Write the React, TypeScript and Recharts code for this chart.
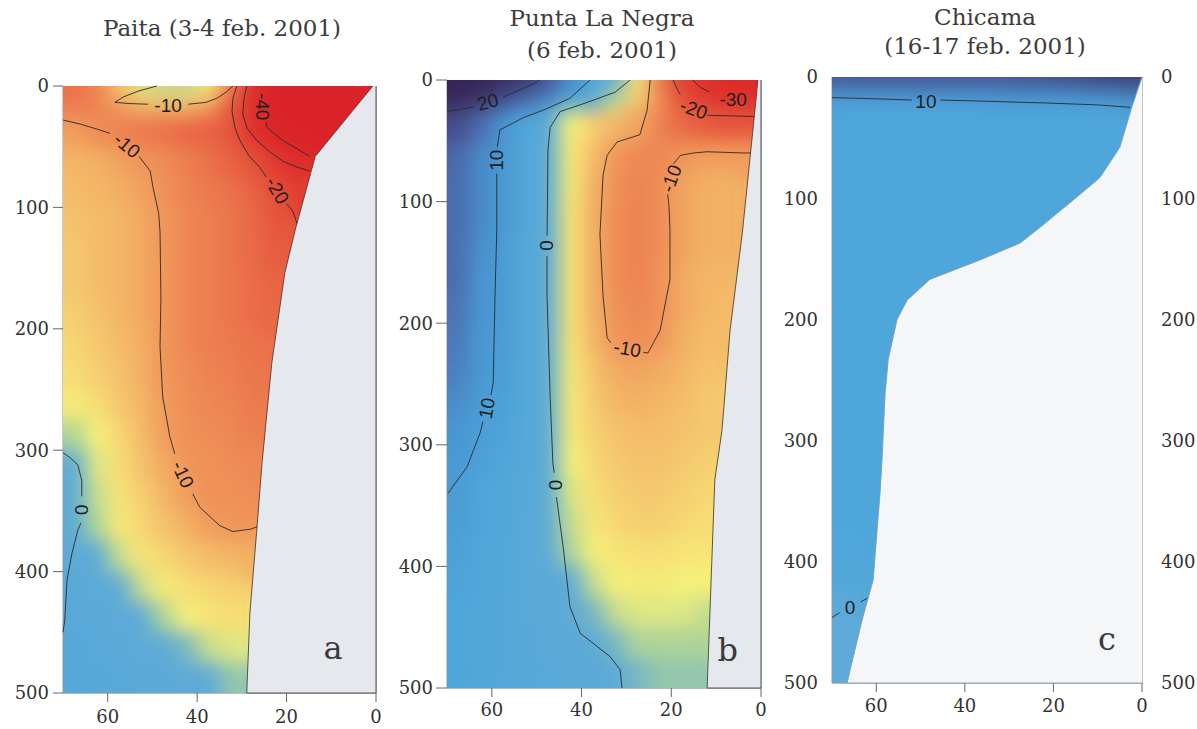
import React from 'react';
import { ScatterChart, Scatter, XAxis, YAxis } from 'recharts';

type Pt = [number, number];
type Lbl = [string, number, number, number];
const _ = null;

// grid of the velocity field: cell centres along the section (km) and depth cell edges (m)
const X_CENTERS = [67.5, 62.5, 57.5, 52.5, 47.5, 42.5, 37.5, 32.5, 27.5, 22.5, 17.5, 12.5, 7.5, 2.5];
const DEPTH_EDGES = [0, 10, 25, 50, 75, 100, 125, 150, 175, 200, 225, 250, 275, 300, 325, 350, 375, 400, 425, 450, 475, 500];
const Y_TICKS = [0, 100, 200, 300, 400, 500];
const X_TICKS = [60, 40, 20, 0];

// Panel a: Paita (3-4 feb. 2001)
const A_ROWS: (number | null)[][] = [
  [-14, -12, -6, -2.5, -2, -2, -3, -12, -36, -45, -45, -45, -45, -45],
  [-13, -12, -10, -8, -7.5, -7.5, -9.5, -19, -33, -45, -45, -45, -45, _],
  [-9.5, -11, -12, -13, -14, -15, -16, -18, -31, -42, -45, -45, _, _],
  [-7.5, -8, -9, -10, -11, -12.5, -14, -16, -19, -26, -34, _, _, _],
  [-7, -7.5, -8, -9, -10.5, -12, -13, -14, -16, -20, -24, _, _, _],
  [-6.5, -7, -7.5, -8.5, -10, -11.5, -12.5, -13.5, -15, -18, _, _, _, _],
  [-6, -7, -7.5, -8.5, -10, -11.5, -12.5, -13.5, -15, -17, _, _, _, _],
  [-6, -7, -7.5, -8.5, -10, -11.5, -12.5, -13.5, -14.5, -16, _, _, _, _],
  [-5.5, -6.5, -7.5, -8.5, -10, -11.5, -12.5, -13.5, -14.5, -15.5, _, _, _, _],
  [-5, -6, -7, -8, -10, -11.5, -12.5, -13, -14, _, _, _, _, _],
  [-4.5, -5.5, -6.5, -8, -10, -11, -12, -12.5, -13.5, _, _, _, _, _],
  [-3.5, -4.5, -6, -7.5, -9.5, -11, -11.5, -12, -13, _, _, _, _, _],
  [-1.5, -3, -5, -7, -9.5, -10.5, -11, -11.5, -12.5, _, _, _, _, _],
  [0, -2.5, -4.5, -6.5, -8.5, -10, -10.5, -11, -11.5, _, _, _, _, _],
  [0.5, -2, -4, -5.5, -7.5, -9.5, -10.5, -10.5, -11, _, _, _, _, _],
  [0.5, -1.5, -3.5, -5, -6.5, -8, -9.5, -10, -10, _, _, _, _, _],
  [1, 0, -2, -4, -5, -6, -7, -7.5, -8, _, _, _, _, _],
  [2, 1, 0, -2, -3.5, -4.5, -5, -5.5, _, _, _, _, _, _],
  [3, 2, 1, 0, -1.5, -3, -4, -4.5, _, _, _, _, _, _],
  [4, 3, 2, 1, 0.5, -0.5, -2, -2.5, _, _, _, _, _, _],
  [5, 4, 3, 2, 1.5, 1, 0, -1, _, _, _, _, _, _],
];
const A_SEAFLOOR: Pt[] = [[0.7, 0], [13.6, 58], [18.1, 119], [20.4, 154], [23.3, 228], [25.5, 311], [26.6, 363], [28.2, 434], [28.9, 500], [0, 500], [0, 0]];
const A_CONTOURS: Pt[][] = [
  [[49, 0], [53, 4], [56.5, 9], [58.4, 13.5], [55, 14.5], [51, 15]],
  [[42, 15], [38, 13.5], [35.5, 10], [33.5, 5], [32, 0]],
  [[70, 28], [66, 31.5], [62, 36], [59.5, 39]],
  [[53, 58], [50.5, 70], [49.9, 83], [48.6, 105], [48.3, 120], [48.1, 174], [48.3, 215], [47.7, 256], [46.1, 289], [45, 303]],
  [[41, 336], [39.4, 347], [35, 362], [32, 367], [28, 365], [26.6, 363]],
  [[24.6, 30], [24.4, 34], [22.5, 40], [20.8, 45], [18, 51], [14.8, 58]],
  [[28.9, 0], [29.5, 10], [29.8, 23], [28.8, 35], [26.6, 45], [23.5, 55], [20.8, 62], [17.5, 67], [14.8, 70]],
  [[31.1, 0], [32, 10], [32.2, 21], [31.5, 35], [30.4, 45], [28.5, 57], [26, 67], [24.5, 75]],
  [[20, 97], [18.6, 103], [17.7, 113]],
  [[70, 302], [68.5, 306], [66.7, 312], [65.8, 325], [65.8, 338]],
  [[66, 360], [66.7, 366], [68, 385], [69.1, 407], [69.6, 440], [70, 450]],
];
const A_LABELS: Lbl[] = [
  ['-10', 46.5, 16, 0], ['-10', 55.7, 49, 40], ['-40', 25.3, 17, 90], ['-20', 22.1, 86, 60], ['-10', 43.2, 320, 65], ['0', 65.8, 349, 90],
];

// Panel b: Punta La Negra (6 feb. 2001)
const B_ROWS: (number | null)[][] = [
  [26, 25, 23, 21, 17, 12, 7, 1.5, -4, -13, -24, -33, -37, -37],
  [23, 20, 17, 14, 11.5, 7, 1, -2, -6, -11, -19, -24, -29, -31],
  [17.5, 14.5, 11, 7, 1, -3, -5.5, -7.5, -9, -12, -15, -17, -18, -18],
  [15, 12, 10.5, 6, 0.5, -3.5, -7, -10, -11.5, -11.5, -10, -9.5, -9.5, -9.5],
  [14.5, 12, 10.5, 6, 0.5, -3.5, -8, -10.5, -12, -11, -9, -8, -8, _],
  [14.5, 12, 10.5, 6, 0.5, -4, -8, -11, -12, -11, -9, -8, -8, _],
  [14.5, 11.5, 10, 5.5, 0.5, -4, -8, -11, -12, -11, -9, -8, -8, _],
  [14.5, 11, 10, 5, 0.5, -4, -8, -11, -12, -10.5, -8.5, -7.5, -7.5, _],
  [14, 11, 10, 5, 0.5, -4, -8, -10.5, -11.5, -10.5, -8.5, -7.5, -7, _],
  [13.5, 10.5, 10, 5, 0.5, -4, -7.5, -10, -11, -10, -8, -7, -7, _],
  [13, 10.5, 9.5, 5, 0.5, -3.5, -6.5, -8.5, -9, -8.5, -7.5, -6.5, _, _],
  [12, 10, 9, 5, 0.5, -3.5, -6, -7.5, -8, -7.5, -7, -6, _, _],
  [11, 9.5, 8.5, 4.5, 0.5, -3.5, -5.5, -6.5, -7, -7, -6.5, -6, _, _],
  [10.5, 9, 7.5, 4, 0.5, -3, -5, -6, -6.5, -6.5, -6, -5.5, _, _],
  [10, 8, 6.5, 3.5, 0.5, -2.5, -4.5, -5.5, -6, -6, -5.5, -5, _, _],
  [9.5, 7.5, 6, 3, 0.5, -2, -4, -5, -5.5, -5.5, -5, -4.5, _, _],
  [9, 7, 5.5, 3, 1, -1.5, -3, -4, -4.5, -4.5, -4, -4, _, _],
  [8.5, 7, 5.5, 3, 1.5, 0, -2, -3, -3.5, -3.5, -3, -3, _, _],
  [8, 6.5, 5, 3, 2, 0.5, -0.5, -2, -2.5, -2.5, -2.5, -2, _, _],
  [8, 6.5, 5, 3.5, 2.5, 1.5, 0.5, -0.5, -1.5, -1.5, -1.5, -1.5, _, _],
  [8, 6.5, 5, 4, 3, 2.5, 1.5, 0.5, -0.5, -1, -1, -1, _, _],
];
const B_SEAFLOOR: Pt[] = [[0.7, 0], [1.3, 23], [4.2, 127], [6.9, 206], [8.7, 288], [10.3, 329], [12.0, 500], [0, 500], [0, 0]];
const B_CONTOURS: Pt[][] = [
  [[70, 26], [67, 24], [64, 22]],
  [[57.5, 14], [54, 8.5], [50, 2], [49.5, 0]],
  [[38.1, 0], [42.6, 15], [48, 24], [53, 31], [58.2, 41], [58.8, 55]],
  [[58.9, 77], [58.9, 123], [59.3, 178], [59.7, 249], [60.2, 259]],
  [[62, 281], [62.6, 290], [65.5, 318], [69.8, 340]],
  [[29.2, 0], [32.5, 10], [39.2, 19], [44.8, 26], [47, 39], [47.5, 58], [47.6, 100], [47.7, 128]],
  [[47.7, 145], [47.7, 178], [47, 261], [46.4, 315], [46.1, 323]],
  [[45.6, 343], [44.1, 384], [42.6, 433], [40.3, 455], [33.7, 474], [31.4, 485], [31, 500]],
  [[24.7, 0], [25.4, 25], [27, 45], [32.1, 51], [34.3, 62], [35.2, 78], [35.9, 127], [35.2, 178], [34.3, 212], [33.5, 216]],
  [[26.2, 224], [25.2, 224.5], [22.5, 206], [20.3, 164], [20.3, 123], [20.5, 105], [20.8, 94]],
  [[19.5, 69], [18, 62], [15, 60], [12, 59], [4, 60], [2.3, 60]],
  [[19.6, 0], [18.6, 8], [18, 12]],
  [[12, 29], [7, 29.5], [1.6, 30]],
  [[15.2, 0], [13.5, 6], [11.5, 10]],
];
const B_LABELS: Lbl[] = [
  ['20', 60.9, 18, -15], ['10', 58.9, 66, -90], ['0', 47.9, 136, -90], ['10', 61.1, 270, -80], ['0', 45.9, 333, -90],
  ['-10', 29.8, 221, 10], ['-10', 20, 81, -70], ['-20', 15, 24, 20], ['-30', 6.2, 16, 0],
];

// Panel c: Chicama (16-17 feb. 2001)
const C_ROWS: (number | null)[][] = [
  [17, 17, 17, 17, 17, 17, 17, 17, 17.5, 18, 18.5, 19, 20, 21],
  [9.5, 9.5, 9.5, 9.5, 9.5, 9.5, 9.5, 10, 10, 10, 10, 10.5, 10.5, 10.5],
  [8, 8, 8, 8, 8, 8, 8, 8, 8, 8, 8, 8, 8, _],
  [8, 8, 8, 8, 8, 8, 8, 8, 8, 8, 8, 8, 8, _],
  [8, 8, 8, 8, 8, 8, 8, 8, 8, 8, 8, 8, _, _],
  [8, 8, 8, 8, 8, 8, 8, 8, 8, 8, _, _, _, _],
  [8, 8, 8, 8, 8, 8, 8, 8, _, _, _, _, _, _],
  [8, 8, 8, 8, 8, _, _, _, _, _, _, _, _, _],
  [8, 8, 8, _, _, _, _, _, _, _, _, _, _, _],
  [8, 8, 8, _, _, _, _, _, _, _, _, _, _, _],
  [8, 8, _, _, _, _, _, _, _, _, _, _, _, _],
  [8, 8, _, _, _, _, _, _, _, _, _, _, _, _],
  [8, 8, _, _, _, _, _, _, _, _, _, _, _, _],
  [8, 8, _, _, _, _, _, _, _, _, _, _, _, _],
  [8, 8, _, _, _, _, _, _, _, _, _, _, _, _],
  [7.5, 8, _, _, _, _, _, _, _, _, _, _, _, _],
  [7, 7.5, _, _, _, _, _, _, _, _, _, _, _, _],
  [6, 7, _, _, _, _, _, _, _, _, _, _, _, _],
  [1, 3, _, _, _, _, _, _, _, _, _, _, _, _],
  [0, _, _, _, _, _, _, _, _, _, _, _, _, _],
  [0, _, _, _, _, _, _, _, _, _, _, _, _, _],
];
const C_SEAFLOOR: Pt[] = [[0, 0], [2.3, 25], [5.0, 58], [9.5, 83], [14.7, 99], [23, 124], [27.5, 137], [36.6, 151], [47.9, 167], [53, 184], [55.3, 200], [57.3, 233], [58, 261], [58.7, 316], [59.1, 341], [60.7, 415], [63.2, 448], [66.6, 500], [0, 500]];
const C_CONTOURS: Pt[][] = [
  [[70, 17], [60, 18], [52, 19]],
  [[45.5, 19], [35, 20], [21.4, 21.5], [10, 23], [2.7, 25]],
  [[70, 446], [68.3, 442]],
  [[63.5, 433], [62, 430]],
];
const C_LABELS: Lbl[] = [['10', 48.8, 20.6, 0], ['0', 65.9, 438, 0]];

// colour scale (cm/s)
const STOPS: [number, number, number, number][] = [
  [-45, 218, 35, 40], [-35, 222, 42, 42], [-25, 225, 58, 48], [-18, 229, 86, 60], [-15, 233, 105, 70], [-13, 236, 122, 78],
  [-10, 240, 150, 90], [-8, 242, 176, 100], [-6, 245, 200, 110], [-4.5, 246, 222, 116], [-3, 245, 240, 122],
  [-1.5, 175, 212, 152], [0, 94, 170, 214], [8, 78, 166, 218], [11, 72, 150, 210], [14, 76, 114, 180],
  [17, 70, 80, 145], [20, 62, 55, 110], [25, 52, 35, 85],
];
function heatColor(v: number): string {
  if (v <= STOPS[0][0]) return `rgb(${STOPS[0][1]},${STOPS[0][2]},${STOPS[0][3]})`;
  for (let i = 1; i < STOPS.length; i++) {
    const a = STOPS[i - 1], b = STOPS[i];
    if (v <= b[0]) {
      const t = (v - a[0]) / (b[0] - a[0]);
      const c = [1, 2, 3].map((k) => Math.round(a[k] + (b[k] - a[k]) * t));
      return `rgb(${c[0]},${c[1]},${c[2]})`;
    }
  }
  const l = STOPS[STOPS.length - 1];
  return `rgb(${l[1]},${l[2]},${l[3]})`;
}

function buildCells(rows: (number | null)[][]) {
  const out: { x: number; d: number; v: number; span: number }[] = [];
  rows.forEach((row, i) => {
    const d0 = DEPTH_EDGES[i], d1 = DEPTH_EDGES[i + 1];
    row.forEach((v, j) => {
      if (v === null || v === undefined) return;
      out.push({ x: X_CENTERS[j], d: (d0 + d1) / 2, v, span: d1 - d0 });
    });
  });
  return out;
}
const toPts = (p: Pt[]) => p.map(([x, d]) => ({ x, d }));

const SERIF = '"DejaVu Serif", serif';
const SANS = '"Liberation Sans", Arial, sans-serif';
const Empty = () => <g />;

type PanelCfg = {
  id: string; left: number; width: number; mTop: number; mBottom: number; leftW: number; rightW: number;
  rows: (number | null)[][]; sea: Pt[]; seaFill: string; seaStroke: string; contours: Pt[][]; labels: Lbl[]; letter: Lbl;
  leftTickSize: number; leftTickMargin: number; leftTickLine: boolean; rightLabels: boolean; xTickMargin: number;
};

const PANELS: PanelCfg[] = [
  { id: 'a', left: 0, width: 400, mTop: 86, mBottom: 6, leftW: 63, rightW: 24, rows: A_ROWS, sea: A_SEAFLOOR, seaFill: '#e5e9ed', seaStroke: '#444',
    contours: A_CONTOURS, labels: A_LABELS, letter: ['a', 9.6, 463, 0], leftTickSize: 10, leftTickMargin: 4, leftTickLine: true, rightLabels: false, xTickMargin: 8 },
  { id: 'b', left: 390, width: 400, mTop: 80, mBottom: 11, leftW: 57, rightW: 29, rows: B_ROWS, sea: B_SEAFLOOR, seaFill: '#e5e9ed', seaStroke: '#444',
    contours: B_CONTOURS, labels: B_LABELS, letter: ['b', 7.4, 469, 0], leftTickSize: 11, leftTickMargin: 3, leftTickLine: true, rightLabels: false, xTickMargin: 6 },
  { id: 'c', left: 780, width: 417, mTop: 77, mBottom: 16, leftW: 52, rightW: 55, rows: C_ROWS, sea: C_SEAFLOOR, seaFill: '#f4f6f8', seaStroke: '#8a9aa6',
    contours: C_CONTOURS, labels: C_LABELS, letter: ['c', 7.9, 464, 0], leftTickSize: 6, leftTickMargin: 8, leftTickLine: false, rightLabels: true, xTickMargin: 7 },
];

const H = 729;
const X_AXIS_H = 30;

function Panel({ cfg }: { cfg: PanelCfg }) {
  const plotW = cfg.width - cfg.leftW - cfg.rightW;
  const plotH = H - cfg.mTop - cfg.mBottom - X_AXIS_H;
  const cellW = (5 / 70) * plotW;
  const cells = buildCells(cfg.rows);
  const HeatCell = (p: any) => {
    const h = (p.payload.span / 500) * plotH;
    return <rect x={p.cx - cellW / 2} y={p.cy - h / 2} width={cellW} height={h} fill={heatColor(p.payload.v)} shapeRendering="crispEdges" />;
  };
  const LabelShape = (p: any) => (
    <text x={p.cx} y={p.cy} transform={`rotate(${p.payload.r} ${p.cx} ${p.cy})`} textAnchor="middle" dominantBaseline="central"
      fontFamily={SANS} fontSize={19} fill="#1e1e1e">{p.payload.t}</text>
  );
  const LetterShape = (p: any) => (
    <text x={p.cx} y={p.cy} textAnchor="middle" dominantBaseline="central" fontFamily={SERIF} fontSize={32} fill="#3a3a3a">{p.payload.t}</text>
  );
  const tickStyle = { fontFamily: SERIF, fontSize: 18, fill: '#333' };
  return (
    <div style={{ position: 'absolute', left: cfg.left, top: 0, width: cfg.width, height: H }}>
      <ScatterChart width={cfg.width} height={H} margin={{ top: cfg.mTop, right: 0, bottom: cfg.mBottom, left: 0 }}>
        <XAxis type="number" dataKey="x" domain={[0, 70]} reversed ticks={X_TICKS} interval={0} height={X_AXIS_H}
          tickSize={9} tickMargin={cfg.xTickMargin} tick={tickStyle} stroke="#666" axisLine={{ stroke: '#777' }} tickLine={{ stroke: '#666' }} />
        <YAxis yAxisId="l" type="number" dataKey="d" domain={[0, 500]} reversed ticks={Y_TICKS} interval={0} width={cfg.leftW}
          tickSize={cfg.leftTickSize} tickMargin={cfg.leftTickMargin} tick={tickStyle} tickLine={cfg.leftTickLine ? { stroke: '#666' } : { stroke: 'none' }}
          axisLine={{ stroke: '#999' }} />
        <YAxis yAxisId="r" orientation="right" type="number" dataKey="d" domain={[0, 500]} reversed ticks={Y_TICKS} interval={0} width={cfg.rightW}
          tickSize={cfg.rightLabels ? 6 : 9} tickMargin={cfg.rightLabels ? 13 : 2} tick={cfg.rightLabels ? tickStyle : false}
          tickLine={cfg.rightLabels ? { stroke: 'none' } : { stroke: '#666' }} axisLine={{ stroke: '#888' }} />
        <Scatter yAxisId="l" className="heat" data={cells} shape={HeatCell} isAnimationActive={false} legendType="none" />
        <Scatter yAxisId="r" data={toPts(cfg.sea)} shape={Empty} line={{ stroke: cfg.seaStroke, strokeWidth: 0.9, fill: cfg.seaFill }}
          isAnimationActive={false} legendType="none" />
        {cfg.contours.map((seg, i) => (
          <Scatter key={`c${i}`} yAxisId="l" data={toPts(seg)} shape={Empty} line={{ stroke: '#2a2a2a', strokeWidth: 0.9 }}
            isAnimationActive={false} legendType="none" />
        ))}
        <Scatter yAxisId="l" data={cfg.labels.map(([t, x, d, r]) => ({ t, x, d, r }))} shape={LabelShape} isAnimationActive={false} legendType="none" />
        <Scatter yAxisId="r" data={[{ t: cfg.letter[0], x: cfg.letter[1], d: cfg.letter[2] }]} shape={LetterShape} isAnimationActive={false} legendType="none" />
      </ScatterChart>
    </div>
  );
}

const titleStyle: React.CSSProperties = { position: 'absolute', textAlign: 'center', fontFamily: SERIF, fontSize: 23, color: '#3c3c3c', whiteSpace: 'nowrap' };

export default function App() {
  return (
    <div style={{ position: 'absolute', left: 0, top: 0, width: 1197, height: 729, background: '#fff', overflow: 'hidden' }}>
      <style>{'.heat { filter: url(#heatBlur); }'}</style>
      <svg width={0} height={0} style={{ position: 'absolute' }}>
        <defs>
          <filter id="heatBlur" x="0" y="0" width="1" height="1" filterUnits="objectBoundingBox" colorInterpolationFilters="sRGB">
            <feGaussianBlur stdDeviation="9.5" />
            <feComponentTransfer>
              <feFuncA type="table" tableValues="1 1" />
            </feComponentTransfer>
          </filter>
        </defs>
      </svg>
      {PANELS.map((p) => <Panel key={p.id} cfg={p} />)}
      <div style={{ ...titleStyle, left: 22, width: 400, top: 13, lineHeight: '30px' }}>Paita (3-4 feb. 2001)</div>
      <div style={{ ...titleStyle, left: 402, width: 400, top: 2, lineHeight: '32px' }}>Punta La Negra<br />(6 feb. 2001)</div>
      <div style={{ ...titleStyle, left: 785, width: 400, top: 3, lineHeight: '29px' }}>Chicama<br />(16-17 feb. 2001)</div>
    </div>
  );
}
